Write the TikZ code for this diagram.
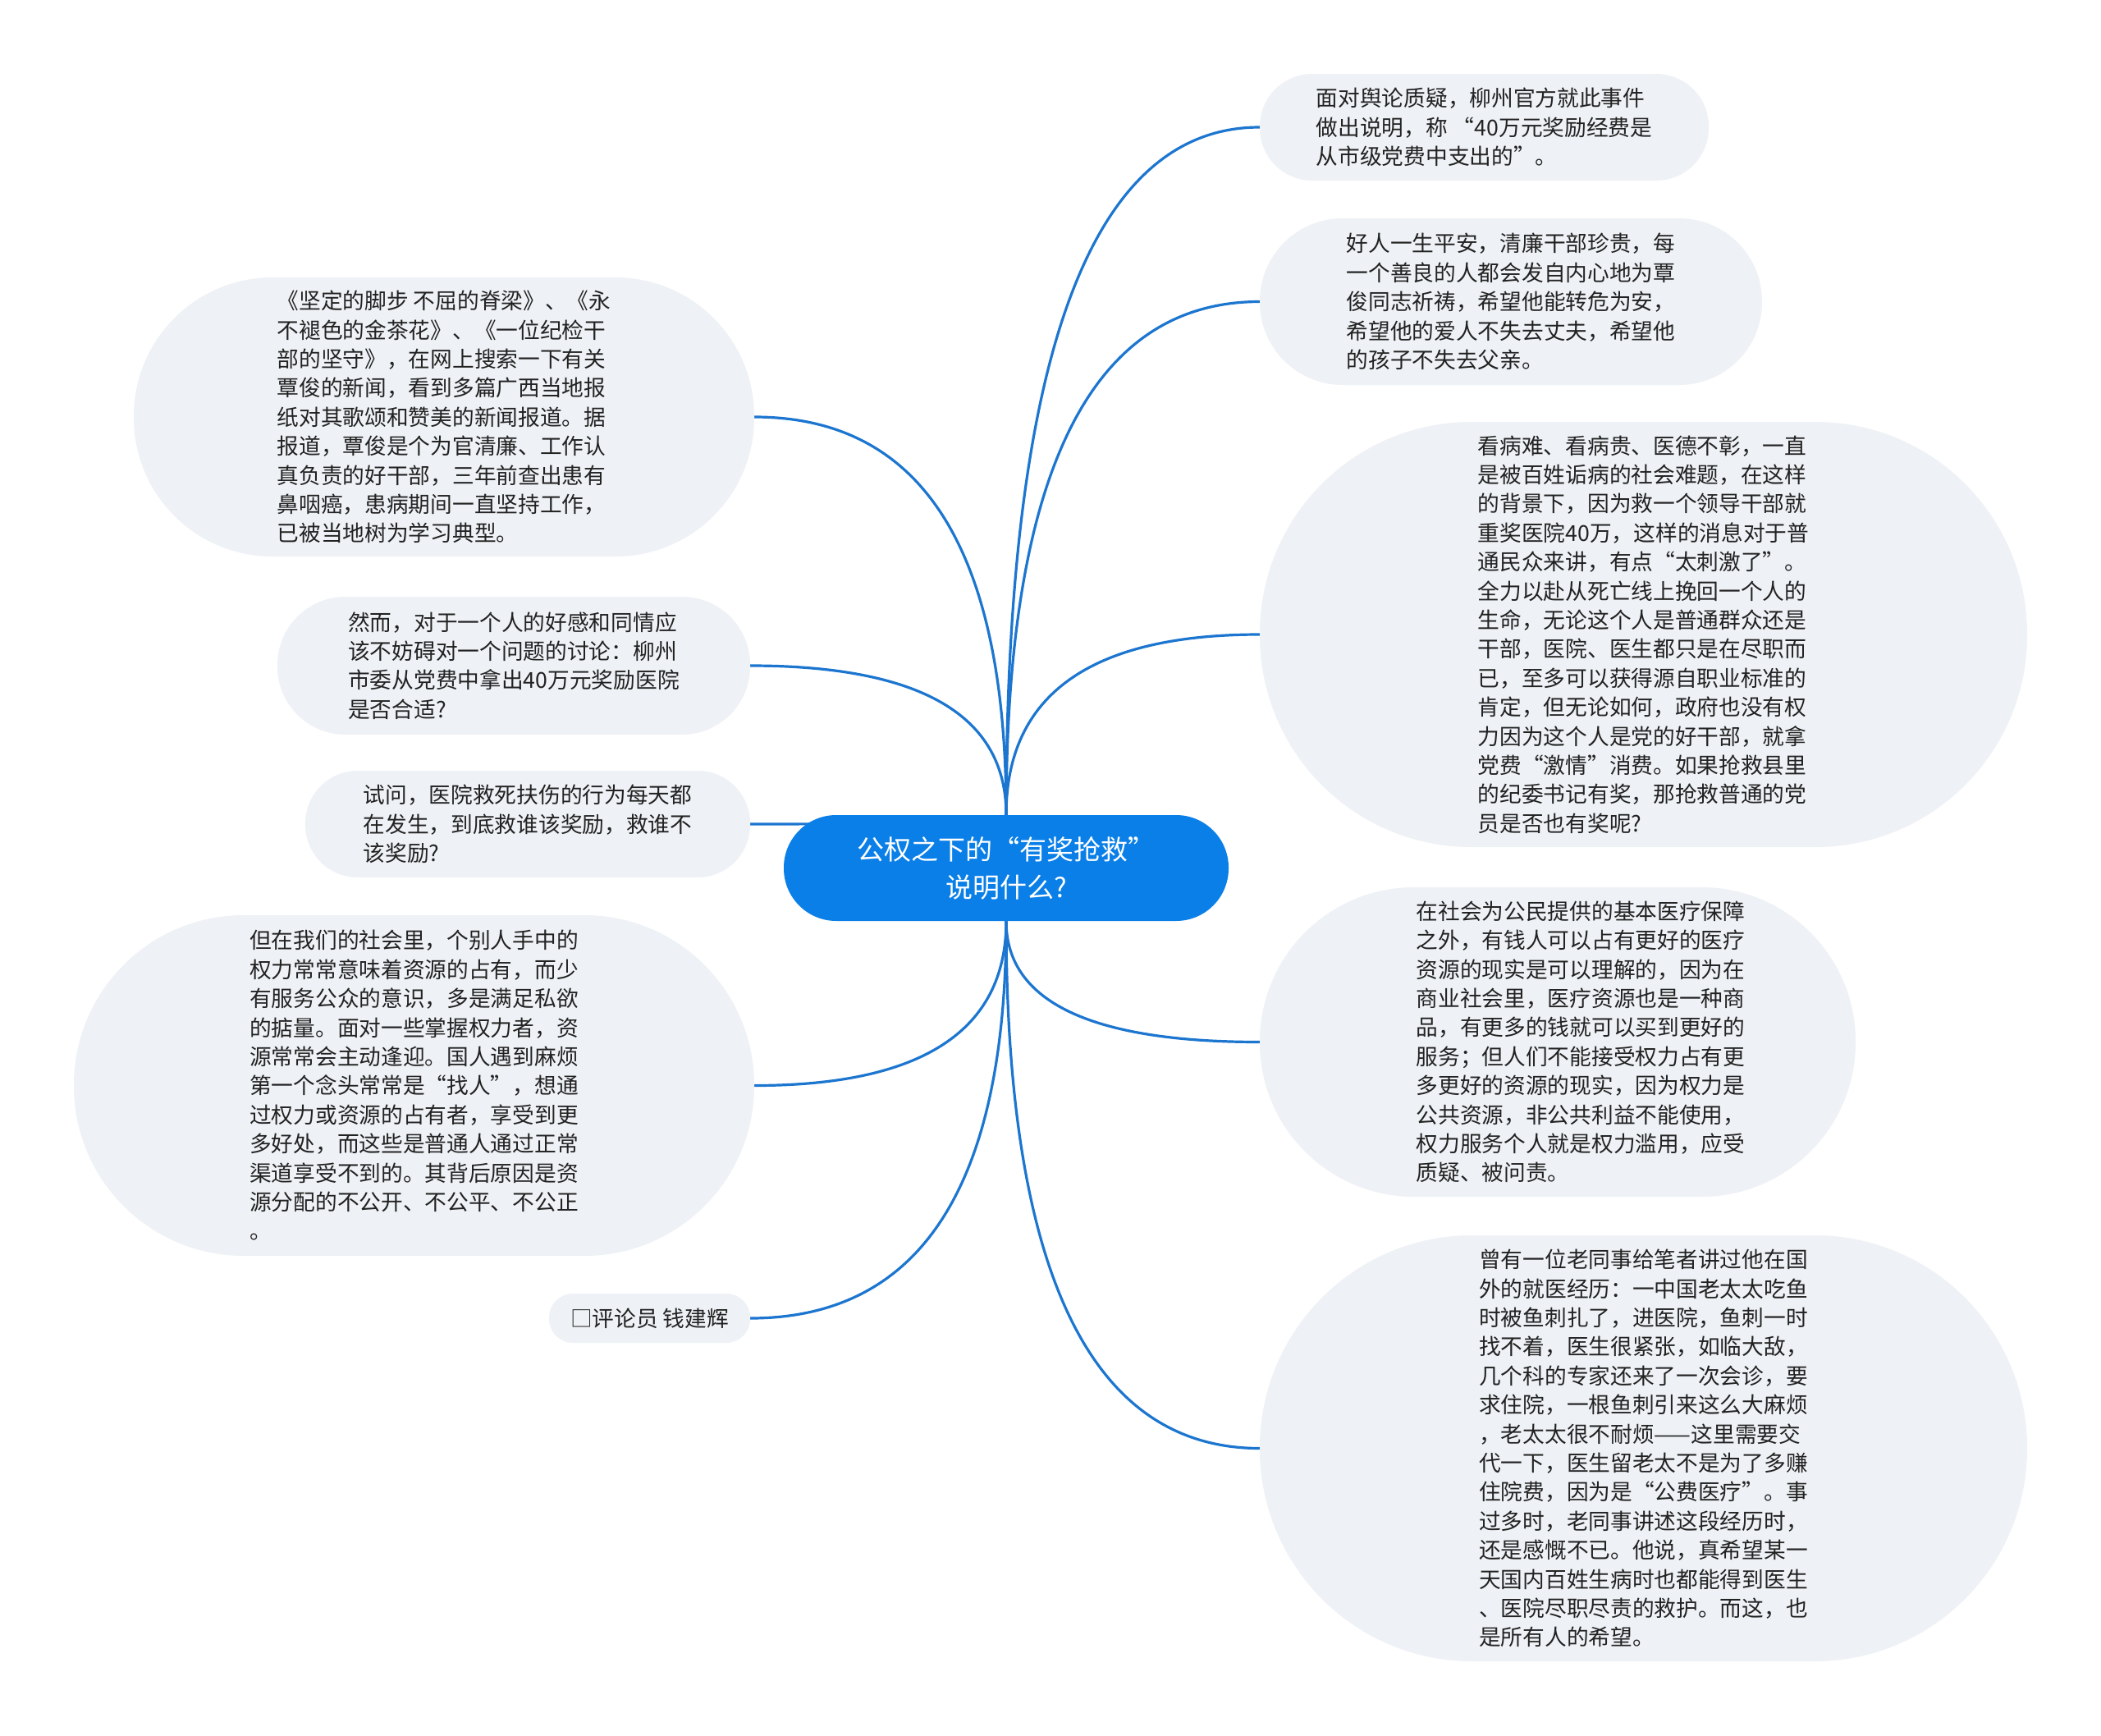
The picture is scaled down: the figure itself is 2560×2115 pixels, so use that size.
\documentclass[tikz,border=0pt]{standalone}
\usepackage{fontspec}
\setmainfont{Noto Sans CJK SC}
\usetikzlibrary{calc}
\pgfdeclarelayer{bg}
\pgfsetlayers{bg,main}
\definecolor{leafgray}{HTML}{EEF1F5}
\definecolor{rootblue}{HTML}{0A7FE8}
\definecolor{linkblue}{HTML}{1C76D0}
\definecolor{txt}{HTML}{222222}
\tikzset{
  leaf/.style n args={3}{fill=leafgray, text=txt, align=left, inner sep=0pt,
    minimum width=#1, minimum height=#2, rounded corners=#3,
    font=\fontsize{26.7pt}{35.4pt}\selectfont},
  leaftext/.style={text=txt, align=left, inner sep=0pt,
    font=\fontsize{26.7pt}{35.4pt}\selectfont},
  root/.style={fill=rootblue, text=white, align=center, inner sep=0pt,
    minimum width=542pt, minimum height=129pt, rounded corners=64pt,
    font=\fontsize{33pt}{46pt}\selectfont},
  link/.style={draw=linkblue, line width=3.2pt},
}
\newcommand{\mmlink}[2]{\draw[link] (#1) .. controls ($(#1)!2/3!(#1|-#2)$) and ($(#2)!2/3!(#1|-#2)$) .. (#2);}
\begin{document}
\begin{tikzpicture}[x=1pt,y=-1pt]
\useasboundingbox (0,0) rectangle (2560,2115);

\node[root] (c) at (1226,1057.5) {公权之下的“有奖抢救”\\说明什么?};

\node[leaf={547pt}{130pt}{64pt}] (r1) at (1808.5,155) {面对舆论质疑，柳州官方就此事件\\%
做出说明，称 “40万元奖励经费是\\%
从市级党费中支出的”。};

\node[leaf={612pt}{203pt}{101pt}] (r2) at (1841,367.5) {好人一生平安，清廉干部珍贵，每\\%
一个善良的人都会发自内心地为覃\\%
俊同志祈祷，希望他能转危为安，\\%
希望他的爱人不失去丈夫，希望他\\%
的孩子不失去父亲。};

\node[leaf={935pt}{518pt}{258pt}] (r3) at (2002.5,773) {看病难、看病贵、医德不彰，一直\\%
是被百姓诟病的社会难题，在这样\\%
的背景下，因为救一个领导干部就\\%
重奖医院40万，这样的消息对于普\\%
通民众来讲，有点“太刺激了”。\\%
全力以赴从死亡线上挽回一个人的\\%
生命，无论这个人是普通群众还是\\%
干部，医院、医生都只是在尽职而\\%
已，至多可以获得源自职业标准的\\%
肯定，但无论如何，政府也没有权\\%
力因为这个人是党的好干部，就拿\\%
党费“激情”消费。如果抢救县里\\%
的纪委书记有奖，那抢救普通的党\\%
员是否也有奖呢?};

\node[leaf={726pt}{377pt}{188pt}] (r4) at (1898,1269.5) {};
\node[leaftext] (r4t) at ([xshift=28pt]r4.center) {在社会为公民提供的基本医疗保障\\%
之外，有钱人可以占有更好的医疗\\%
资源的现实是可以理解的，因为在\\%
商业社会里，医疗资源也是一种商\\%
品，有更多的钱就可以买到更好的\\%
服务；但人们不能接受权力占有更\\%
多更好的资源的现实，因为权力是\\%
公共资源，非公共利益不能使用，\\%
权力服务个人就是权力滥用，应受\\%
质疑、被问责。};

\node[leaf={935pt}{519pt}{259pt}] (r5) at (2002.5,1764.5) {曾有一位老同事给笔者讲过他在国\\%
外的就医经历：一中国老太太吃鱼\\%
时被鱼刺扎了，进医院，鱼刺一时\\%
找不着，医生很紧张，如临大敌，\\%
几个科的专家还来了一次会诊，要\\%
求住院，一根鱼刺引来这么大麻烦\\%
，老太太很不耐烦——这里需要交\\%
代一下，医生留老太不是为了多赚\\%
住院费，因为是“公费医疗”。事\\%
过多时，老同事讲述这段经历时，\\%
还是感慨不已。他说，真希望某一\\%
天国内百姓生病时也都能得到医生\\%
、医院尽职尽责的救护。而这，也\\%
是所有人的希望。};

\node[leaf={756pt}{340pt}{169pt}] (l1) at (541,508) {《坚定的脚步 不屈的脊梁》、《永\\%
不褪色的金茶花》、《一位纪检干\\%
部的坚守》，在网上搜索一下有关\\%
覃俊的新闻，看到多篇广西当地报\\%
纸对其歌颂和赞美的新闻报道。据\\%
报道，覃俊是个为官清廉、工作认\\%
真负责的好干部，三年前查出患有\\%
鼻咽癌，患病期间一直坚持工作，\\%
已被当地树为学习典型。};

\node[leaf={576pt}{168pt}{83pt}] (l2) at (626,811) {然而，对于一个人的好感和同情应\\%
该不妨碍对一个问题的讨论：柳州\\%
市委从党费中拿出40万元奖励医院\\%
是否合适?};

\node[leaf={542pt}{130pt}{64pt}] (l3) at (643,1004) {试问，医院救死扶伤的行为每天都\\%
在发生，到底救谁该奖励，救谁不\\%
该奖励?};

\node[leaf={829pt}{415pt}{207pt}] (l4) at (504.5,1322.5) {但在我们的社会里，个别人手中的\\%
权力常常意味着资源的占有，而少\\%
有服务公众的意识，多是满足私欲\\%
的掂量。面对一些掌握权力者，资\\%
源常常会主动逢迎。国人遇到麻烦\\%
第一个念头常常是“找人”，想通\\%
过权力或资源的占有者，享受到更\\%
多好处，而这些是普通人通过正常\\%
渠道享受不到的。其背后原因是资\\%
源分配的不公开、不公平、不公正\\%
。};

\node[leaf={245pt}{60pt}{29pt}] (l5) at (791.5,1606) {□评论员 钱建辉};

\begin{pgfonlayer}{bg}
\fill[white] (0,0) rectangle (2560,2115);
\mmlink{c.north}{r1.west}
\mmlink{c.north}{r2.west}
\mmlink{c.north}{r3.west}
\mmlink{c.south}{r4.west}
\mmlink{c.south}{r5.west}
\mmlink{c.north}{l1.east}
\mmlink{c.north}{l2.east}
\mmlink{c.north}{l3.east}
\mmlink{c.south}{l4.east}
\mmlink{c.south}{l5.east}
\end{pgfonlayer}
\end{tikzpicture}
\end{document}
